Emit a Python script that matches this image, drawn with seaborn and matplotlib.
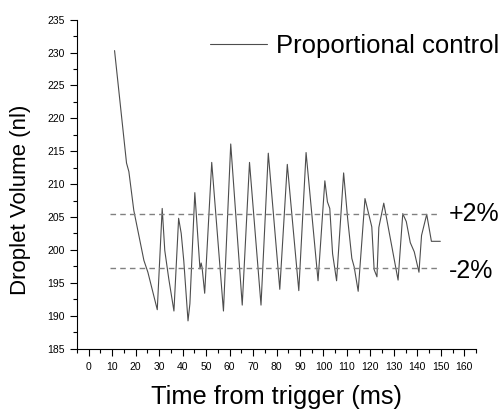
import pandas as pd
import seaborn as sns
import matplotlib.pyplot as plt
from matplotlib.ticker import MultipleLocator

# droplet volume trace
time_ms = [11.0, 16.1, 17.1, 19.2, 23.5, 25.2, 29.2, 31.3, 32.4, 34.1,
           36.3, 38.3, 39.4, 40.5, 42.3, 43.1, 45.2, 47.4, 47.9, 48.3,
           49.4, 52.4, 57.4, 60.5, 65.4, 68.5, 73.4, 76.5, 81.4, 84.6,
           89.5, 92.6, 97.7, 100.6, 101.7, 102.7, 103.9, 105.6, 108.6, 110.3,
           112.1, 113.1, 114.8, 117.7, 120.6, 121.6, 122.8, 123.6, 125.7, 131.8,
           133.8, 135.3, 137.0, 138.7, 140.7, 141.8, 144.0, 146.0, 149.8]
volume_nl = [230.3, 213.2, 211.9, 206.0, 198.4, 196.6, 190.9, 206.3, 199.9, 195.6,
             190.7, 204.8, 202.5, 198.3, 189.2, 191.8, 208.7, 197.1, 198.0, 197.3,
             193.4, 213.3, 190.7, 216.1, 191.6, 213.3, 191.6, 214.7, 194.0, 213.0,
             193.8, 214.8, 195.3, 210.5, 207.3, 206.3, 199.4, 195.3, 211.7, 204.8,
             198.7, 197.4, 193.7, 207.8, 203.5, 197.0, 195.9, 203.4, 207.1, 195.4,
             205.5, 204.3, 201.1, 199.7, 196.6, 202.2, 205.4, 201.3, 201.3]

band_levels = [205.4, 197.3]
band_labels = ['+2%', '-2%']
band_span = [9, 149]

df = pd.DataFrame({'Time': time_ms, 'Volume': volume_nl})

sns.set_style('ticks', {'axes.edgecolor': 'black', 'text.color': 'black',
                        'axes.labelcolor': 'black', 'xtick.color': 'black',
                        'ytick.color': 'black'})
plt.rcParams['font.family'] = ['Liberation Sans', 'DejaVu Sans']

fig = plt.figure(figsize=(5.03, 4.11), dpi=100)
ax = fig.add_axes([77 / 503, 1 - 348.5 / 411, 399 / 503, 328.8 / 411])

sns.lineplot(data=df, x='Time', y='Volume', ax=ax, sort=False, estimator=None,
             color='#4d4d4d', linewidth=0.8, label='Proportional control')

# +/-2% band
for lvl, lab, dy in zip(band_levels, band_labels, [0, -0.5]):
    ax.hlines(lvl, band_span[0], band_span[1], colors='#808080',
              linestyles=(0, (4, 3)), linewidth=1.0)
    ax.text(153.3, lvl + dy, lab, fontsize=18, va='center', ha='left')

ax.set_xlim(-5, 165)
ax.set_ylim(185, 235)
ax.xaxis.set_major_locator(MultipleLocator(10))
ax.xaxis.set_minor_locator(MultipleLocator(5))
ax.yaxis.set_major_locator(MultipleLocator(5))
ax.yaxis.set_minor_locator(MultipleLocator(2.5))
ax.set_xticks(range(0, 161, 10))
ax.tick_params(which='major', length=5, width=0.8, labelsize=7.5, direction='out')
ax.tick_params(which='minor', length=3, width=0.8, direction='out')
ax.tick_params(axis='x', pad=5)
sns.despine(ax=ax)

ax.set_xlabel('Time from trigger (ms)', fontsize=18.3, labelpad=9)
ax.set_ylabel('Droplet Volume (nl)', fontsize=16)
ax.yaxis.set_label_coords(-0.115, 0.453)

ax.legend(loc='upper right', bbox_to_anchor=(1.115, 1.028), frameon=False,
          fontsize=18.5, handlelength=2.2, handletextpad=0.35)

fig.savefig('out.png', dpi=100)
